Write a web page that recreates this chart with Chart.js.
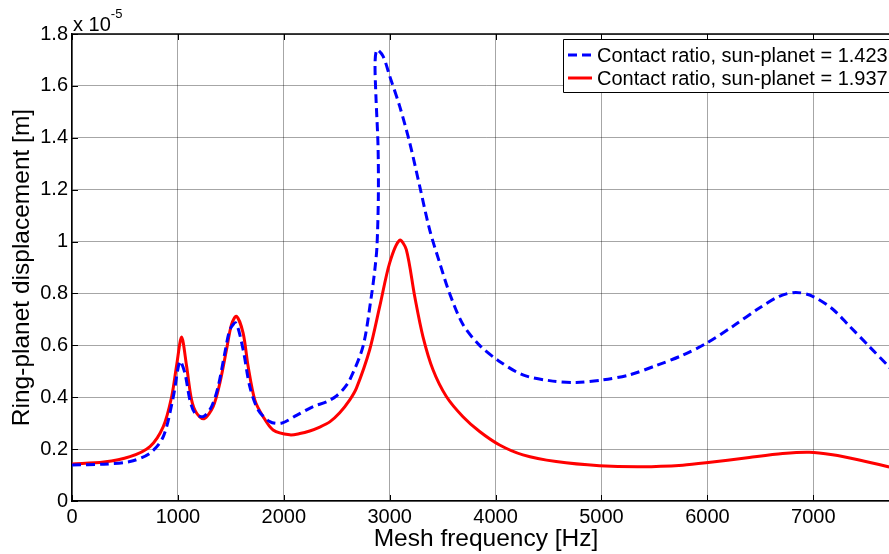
<!DOCTYPE html>
<html>
<head>
<meta charset="utf-8">
<script src="https://cdn.jsdelivr.net/npm/chart.js@4.4.1/dist/chart.umd.min.js"></script>
<style>
  html, body { margin: 0; padding: 0; background: #fff; overflow: hidden; }
  #wrap { width: 889px; height: 554px; overflow: hidden; }
</style>
</head>
<body>
<div id="wrap"><canvas id="chart" width="900" height="554"></canvas></div>
<script>
// values in units of 1e-5 m
const freqLow = [0, 300, 547, 736, 862, 956, 1019, 1066, 1113, 1160, 1239, 1318, 1380, 1443, 1491, 1547,
  1616, 1679, 1758, 1868, 1978, 2120, 2277, 2403, 2497, 2560, 2623, 2748, 2827, 2862, 2880, 2893, 2890, 2870,
  2862, 2880, 2937, 3000, 3094, 3189, 3283, 3377, 3472, 3566, 3692, 3849, 4030, 4258, 4509, 4761, 5013,
  5264, 5516, 5767, 5987, 6239, 6491, 6679, 6836, 6994, 7182, 7340, 7528, 7708, 7820];
const dispLow = [0.139, 0.142, 0.152, 0.184, 0.248, 0.40, 0.538, 0.493, 0.39, 0.339, 0.325, 0.364, 0.441, 0.57, 0.66, 0.686,
  0.583, 0.441, 0.351, 0.306, 0.30, 0.33, 0.364, 0.382, 0.405, 0.43, 0.467, 0.596, 0.789, 0.90, 0.982, 1.175, 1.368, 1.561,
  1.69, 1.739, 1.715, 1.638, 1.522, 1.381, 1.214, 1.046, 0.918, 0.80, 0.68, 0.60, 0.54, 0.486, 0.464, 0.457, 0.467,
  0.486, 0.522, 0.562, 0.607, 0.673, 0.744, 0.789, 0.804, 0.789, 0.74, 0.675, 0.596, 0.52, 0.47];

const freqHigh = [0, 300, 547, 736, 862, 940, 987, 1035, 1082, 1129, 1176, 1245, 1333, 1396, 1459, 1506, 1553,
  1616, 1663, 1726, 1805, 1899, 2057, 2151, 2245, 2340, 2434, 2528, 2623, 2686, 2811, 2906, 3000, 3094, 3157,
  3236, 3314, 3409, 3535, 3692, 3849, 4038, 4258, 4572, 4981, 5390, 5767, 5987, 6396, 6711, 6962, 7182, 7434, 7708, 7820];
const dispHigh = [0.143, 0.15, 0.171, 0.21, 0.287, 0.40, 0.52, 0.632, 0.52, 0.39, 0.339, 0.317, 0.364, 0.454, 0.583, 0.68, 0.712,
  0.647, 0.519, 0.39, 0.325, 0.274, 0.255, 0.26, 0.27, 0.285, 0.305, 0.34, 0.39, 0.435, 0.583, 0.75, 0.918, 1.005, 0.969,
  0.789, 0.634, 0.506, 0.403, 0.325, 0.268, 0.216, 0.178, 0.152, 0.136, 0.132, 0.138, 0.147, 0.168, 0.183, 0.188, 0.178, 0.158, 0.132, 0.12];

const xTickValues = [0, 1000, 2000, 3000, 4000, 5000, 6000, 7000];
const xTickLabels = ['0', '1000', '2000', '3000', '4000', '5000', '6000', '7000'];
const yTickValues = [0, 0.2, 0.4, 0.6, 0.8, 1, 1.2, 1.4, 1.6, 1.8];
const yTickLabels = ['0', '0.2', '0.4', '0.6', '0.8', '1', '1.2', '1.4', '1.6', '1.8'];

const seriesLabels = ['Contact ratio, sun-planet = 1.423', 'Contact ratio, sun-planet = 1.937'];

const FONT = "'Liberation Sans', Arial, sans-serif";

const toPoints = (xs, ys) => xs.map((x, i) => ({ x: x, y: ys[i] }));

// MATLAB style frame: top line, inward ticks, exponent label
const framePlugin = {
  id: 'frame',
  afterDraw(chart) {
    const ctx = chart.ctx;
    const a = chart.chartArea;
    const xs = chart.scales.x, ys = chart.scales.y;
    ctx.save();
    ctx.strokeStyle = '#000';
    ctx.lineWidth = 1.5;
    ctx.beginPath();
    ctx.moveTo(a.left, a.top);
    ctx.lineTo(a.right, a.top);
    ctx.stroke();
    ctx.lineWidth = 1;
    ctx.beginPath();
    xTickValues.forEach(v => {
      const px = Math.round(xs.getPixelForValue(v)) + 0.5;
      ctx.moveTo(px, a.bottom); ctx.lineTo(px, a.bottom - 6);
      ctx.moveTo(px, a.top); ctx.lineTo(px, a.top + 6);
    });
    yTickValues.forEach(v => {
      const py = Math.round(ys.getPixelForValue(v)) + 0.5;
      ctx.moveTo(a.left, py); ctx.lineTo(a.left + 6, py);
    });
    ctx.stroke();

    ctx.fillStyle = '#000';
    ctx.textBaseline = 'alphabetic';
    ctx.textAlign = 'left';
    ctx.font = '20px ' + FONT;
    ctx.fillText('x 10', a.left + 1, a.top - 3);
    const w = ctx.measureText('x 10').width;
    ctx.font = '13px ' + FONT;
    ctx.fillText('-5', a.left + 1 + w, a.top - 16);
    ctx.restore();
  }
};

// legend box in the upper right corner
const legendPlugin = {
  id: 'boxLegend',
  afterDraw(chart) {
    const ctx = chart.ctx;
    const a = chart.chartArea;
    const left = 563, top = 39, bottom = 92;
    ctx.save();
    ctx.fillStyle = '#fff';
    ctx.fillRect(left, top, a.right - left + 2, bottom - top);
    ctx.strokeStyle = '#000';
    ctx.lineWidth = 1;
    ctx.beginPath();
    ctx.moveTo(a.right + 2, top + 0.5);
    ctx.lineTo(left + 0.5, top + 0.5);
    ctx.lineTo(left + 0.5, bottom + 0.5);
    ctx.lineTo(a.right + 2, bottom + 0.5);
    ctx.stroke();
    ctx.font = '20px ' + FONT;
    ctx.textBaseline = 'middle';
    chart.data.datasets.forEach((ds, i) => {
      const y = top + 16 + i * 23;
      ctx.strokeStyle = ds.borderColor;
      ctx.lineWidth = 3;
      ctx.setLineDash(ds.borderDash || []);
      ctx.beginPath();
      ctx.moveTo(568, y);
      ctx.lineTo(592, y);
      ctx.stroke();
      ctx.setLineDash([]);
      ctx.fillStyle = '#000';
      ctx.fillText(ds.label, 597, y + 1);
    });
    ctx.restore();
  }
};

new Chart(document.getElementById('chart'), {
  type: 'line',
  data: {
    datasets: [
      {
        label: seriesLabels[0],
        data: toPoints(freqLow, dispLow),
        borderColor: '#0000ff',
        borderWidth: 3,
        borderDash: [9, 5],
        pointRadius: 0,
        tension: 0.3,
        fill: false
      },
      {
        label: seriesLabels[1],
        data: toPoints(freqHigh, dispHigh),
        borderColor: '#ff0000',
        borderWidth: 3,
        pointRadius: 0,
        tension: 0.3,
        fill: false
      }
    ]
  },
  options: {
    responsive: false,
    devicePixelRatio: 1,
    animation: false,
    layout: { padding: { top: 34, right: 0, left: 0, bottom: 0 } },
    plugins: {
      legend: { display: false },
      tooltip: { enabled: false }
    },
    scales: {
      x: {
        type: 'linear',
        min: 0,
        max: 7819,
        afterBuildTicks: (axis) => { axis.ticks = xTickValues.map(v => ({ value: v })); },
        afterFit: (axis) => { axis.height = 53; },
        ticks: {
          autoSkip: false,
          maxRotation: 0,
          padding: 4,
          color: '#000',
          font: { family: FONT, size: 20 },
          callback: (v, i) => xTickLabels[i]
        },
        grid: { color: 'rgba(0,0,0,0.35)', lineWidth: 1, drawTicks: false },
        border: { display: true, color: '#000', width: 1.5 },
        title: {
          display: true,
          text: 'Mesh frequency [Hz]',
          color: '#000',
          font: { family: FONT, size: 24.5 },
          padding: { top: 0, bottom: 0 }
        }
      },
      y: {
        type: 'linear',
        min: 0,
        max: 1.8,
        afterBuildTicks: (axis) => { axis.ticks = yTickValues.map(v => ({ value: v })); },
        afterFit: (axis) => { axis.width = 72; },
        ticks: {
          autoSkip: false,
          padding: 4,
          color: '#000',
          font: { family: FONT, size: 20 },
          callback: (v, i) => yTickLabels[i]
        },
        grid: { color: 'rgba(0,0,0,0.35)', lineWidth: 1, drawTicks: false },
        border: { display: true, color: '#000', width: 1.5 },
        title: {
          display: true,
          text: 'Ring-planet displacement [m]',
          color: '#000',
          font: { family: FONT, size: 24.5 },
          padding: { top: 8, bottom: 0 }
        }
      }
    }
  },
  plugins: [framePlugin, legendPlugin]
});
</script>
</body>
</html>
